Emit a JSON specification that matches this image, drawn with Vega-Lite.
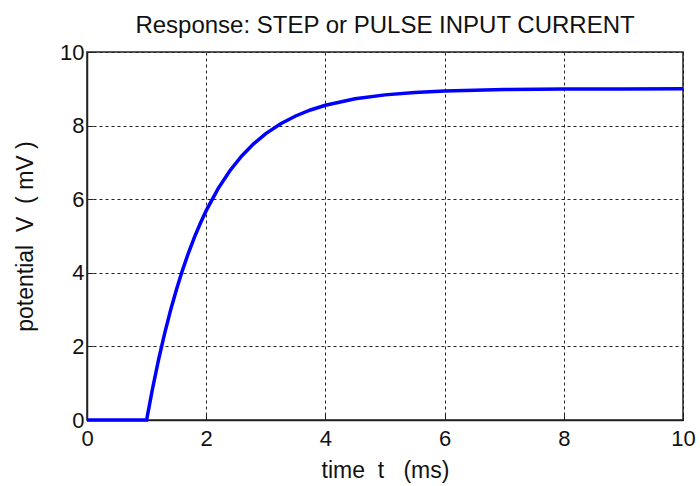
{
  "$schema": "https://vega.github.io/schema/vega-lite/v6.json",
  "autosize": {"type": "none"},
  "padding": {"left": 87, "top": 52, "right": 17, "bottom": 66},
  "width": 596,
  "height": 368,
  "background": "white",
  "title": {"text": "Response: STEP or PULSE INPUT CURRENT", "font": "Liberation Sans", "fontSize": 24, "fontWeight": "normal", "color": "#111111", "offset": 3, "anchor": "middle"},
  "config": {
    "view": {"stroke": "#222222", "strokeWidth": 1.5},
    "axis": {
      "labelFont": "Liberation Sans", "labelFontSize": 22, "labelColor": "#111111",
      "titleFont": "Liberation Sans", "titleFontSize": 23, "titleFontWeight": "normal", "titleColor": "#111111",
      "domainColor": "#222222", "domainWidth": 1.5,
      "gridColor": "#222222", "gridDash": [3, 3], "gridWidth": 1, "gridOpacity": 1,
      "tickColor": "#222222", "tickSize": -6, "tickWidth": 1,
      "labelFlush": false, "labelOverlap": false
    }
  },
  "data": {"values": [
    {"t": 0, "v": 0}, {"t": 1, "v": 0},
    {"t": 1.1, "v": 0.857}, {"t": 1.2, "v": 1.632}, {"t": 1.3, "v": 2.333}, {"t": 1.4, "v": 2.967},
    {"t": 1.5, "v": 3.541}, {"t": 1.6, "v": 4.061}, {"t": 1.7, "v": 4.531}, {"t": 1.8, "v": 4.956},
    {"t": 1.9, "v": 5.341}, {"t": 2.0, "v": 5.689}, {"t": 2.2, "v": 6.289}, {"t": 2.4, "v": 6.781},
    {"t": 2.6, "v": 7.183}, {"t": 2.8, "v": 7.512}, {"t": 3.0, "v": 7.782}, {"t": 3.25, "v": 8.051},
    {"t": 3.5, "v": 8.261}, {"t": 3.75, "v": 8.425}, {"t": 4.0, "v": 8.552}, {"t": 4.5, "v": 8.728},
    {"t": 5.0, "v": 8.835}, {"t": 5.5, "v": 8.9}, {"t": 6.0, "v": 8.939}, {"t": 7.0, "v": 8.978},
    {"t": 8.0, "v": 8.992}, {"t": 9.0, "v": 8.997}, {"t": 10.0, "v": 9.0}
  ]},
  "mark": {"type": "line", "color": "#0000ff", "strokeWidth": 3.5},
  "encoding": {
    "x": {"field": "t", "type": "quantitative", "scale": {"domain": [0, 10], "nice": false},
      "axis": {"values": [0, 2, 4, 6, 8, 10], "title": "time\u00a0\u00a0t\u00a0\u00a0\u00a0(ms)", "labelPadding": 14, "titlePadding": 10}},
    "y": {"field": "v", "type": "quantitative", "scale": {"domain": [0, 10], "nice": false, "zero": true},
      "axis": {"values": [0, 2, 4, 6, 8, 10], "title": "potential\u00a0\u00a0V\u00a0\u00a0(\u00a0mV\u00a0)", "labelPadding": 9, "titlePadding": 22}}
  }
}
